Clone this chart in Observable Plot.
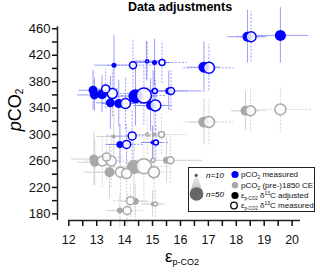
<!DOCTYPE html>
<html><head><meta charset="utf-8">
<script src="https://cdn.jsdelivr.net/npm/d3@7"></script>
<script src="https://cdn.jsdelivr.net/npm/@observablehq/plot@0.6"></script>
<style>
body{margin:0;background:#fff;overflow:hidden;font-family:"Liberation Sans",Arial,sans-serif;}
#wrap{position:relative;width:320px;height:272px;}
.abs{position:absolute;white-space:nowrap;}
</style></head>
<body><div id="wrap"></div>
<script>
// ---- data: blue = pCO2 measured, gray = pCO2 (pre-)1850 CE
// filled = eps δ13C adjusted, open = eps δ13C measured
const blueAdjEps  = [18.40,19.58,16.84,13.62,14.78,15.07,12.87,12.92,13.19,13.49,13.79,14.39,14.93,15.02,15.58,13.83,15.00];
const blueAdjPco2 = [448,450,402,405,411,409,367,360,361,348,347,358,344,366,366,285,288];
const blueAdjN    = [38,42,42,18,10,18,34,34,38,34,34,54,34,14,26,26,14];
const blueAdjEx   = [0.7,1.0,0.6,0.7,0.5,0.6,0.5,0.6,0.4,0.5,0.6,0.8,0.6,0.4,1.2,0.5,0.4];
const blueAdjEy   = [40,42,38,45,30,35,30,25,28,40,35,45,40,30,30,30,25];

const blueMeasEps  = [18.53,17.02,14.30,14.81,15.34,13.32,13.56,14.03,14.69,15.10,15.08,15.66,14.07,15.12,14.27];
const blueMeasPco2 = [448,401,405,411,409,369,362,347,359,344,366,366,285,288,298];
const blueMeasN    = [38,42,26,10,22,30,38,38,58,42,18,26,30,18,30];
const blueMeasEx   = [0.5,0.9,0.9,0.4,0.9,0.5,0.6,0.6,0.8,0.6,0.5,0.6,0.6,0.5,0.9];
const blueMeasEy   = [38,35,40,28,32,30,35,40,45,38,30,30,30,25,40];

const grayAdjEps  = [18.33,16.84,13.61,15.05,12.90,12.93,13.46,14.33,15.50,13.83,14.38,15.00];
const grayAdjPco2 = [336,319,297,300,263,258,243,251,261,185,199,195];
const grayAdjN    = [38,42,14,14,34,34,38,54,26,22,26,14];
const grayAdjEx   = [0.5,0.5,0.6,0.6,0.8,0.6,0.9,0.8,1.3,0.5,0.5,0.4];
const grayAdjEy   = [30,35,40,35,40,35,40,45,35,25,25,20];

const grayMeasEps  = [18.51,19.58,17.02,14.81,15.32,13.20,13.35,13.52,13.85,14.07,14.69,15.05,15.02,15.64,14.09,14.21,15.10];
const grayMeasPco2 = [336,338,319,300,300,260,266,260,243,241,252,243,261,261,185,200,195];
const grayMeasN    = [38,42,42,10,22,38,30,38,38,38,58,42,14,26,30,30,14];
const grayMeasEx   = [0.6,1.1,0.9,0.5,0.9,0.6,0.6,0.7,0.8,0.7,0.9,0.7,0.5,0.5,0.6,0.6,0.4];
const grayMeasEy   = [33,35,35,30,30,40,35,40,45,40,50,40,30,35,25,25,20];

const xTicks = d3.range(12, 20.01, 0.5);
const yTicks = d3.range(180, 461, 20);
const xDomain = [12, 20.3];
const yDomain = [170, 463];

function rows(eps, p, n, ex, ey){ return eps.map((e,i)=>({eps:e,pco2:p[i],n:n[i],ex:ex[i],ey:ey[i]})); }
const blueAdj = rows(blueAdjEps,blueAdjPco2,blueAdjN,blueAdjEx,blueAdjEy);
const blueMeas = rows(blueMeasEps,blueMeasPco2,blueMeasN,blueMeasEx,blueMeasEy);
const grayAdj = rows(grayAdjEps,grayAdjPco2,grayAdjN,grayAdjEx,grayAdjEy);
const grayMeas = rows(grayMeasEps,grayMeasPco2,grayMeasN,grayMeasEx,grayMeasEy);

const BLUE="#0000ff", BLUEBAR="#7373ff", GRAY="#a8a8a8", GRAYBAR="#cfcfcf";
function bars(data, color, dash, op){
  return [
    Plot.ruleY(data,{y:"pco2",x1:d=>d.eps-d.ex,x2:d=>d.eps+d.ex,stroke:color,strokeOpacity:op,strokeWidth:1,strokeDasharray:dash}),
    Plot.ruleX(data,{x:"eps",y1:d=>d.pco2-d.ey,y2:d=>d.pco2+d.ey,stroke:color,strokeOpacity:op,strokeWidth:1,strokeDasharray:dash})
  ];
}
const axisX0 = xDomain[0] - 11.3/27.9;
const chart = Plot.plot({
  width:320, height:272,
  marginLeft:57, marginRight:20, marginTop:26.3, marginBottom:52,
  x:{domain:xDomain, insetLeft:11.3},
  y:{domain:yDomain},
  r:{type:"linear", domain:[10,50], range:[1.5,6.5], clamp:false},
  style:{fontFamily:'"Liberation Sans",Arial,sans-serif', fontSize:"12px", color:"#111", background:"#fff"},
  marks:[
    ...bars(grayMeas, GRAYBAR, "2,1.5", 0.9),
    ...bars(grayAdj, GRAYBAR, null, 0.9),
    ...bars(blueMeas, BLUEBAR, "2,1.5", 0.7),
    ...bars(blueAdj, BLUEBAR, null, 0.7),
    Plot.dot(grayAdj,{x:"eps",y:"pco2",r:"n",fill:GRAY,stroke:"none"}),
    Plot.dot(grayMeas,{x:"eps",y:"pco2",r:"n",fill:"white",fillOpacity:0.85,stroke:GRAY,strokeWidth:1.5}),
    Plot.dot(blueAdj,{x:"eps",y:"pco2",r:"n",fill:BLUE,stroke:"none"}),
    Plot.dot(blueMeas,{x:"eps",y:"pco2",r:"n",fill:"white",fillOpacity:0.85,stroke:BLUE,strokeWidth:1.5}),
    Plot.ruleY([yDomain[0]],{x1:xDomain[0],x2:xDomain[1],stroke:"#222",strokeWidth:1.5}),
    Plot.ruleX([axisX0],{y1:yDomain[0],y2:yDomain[1],stroke:"#222",strokeWidth:1.5}),
    Plot.axisX({ticks:xTicks, tickSize:6, tickPadding:9, tickFormat:d=>Number.isInteger(d)?d:"", label:null, strokeWidth:1.5, fontSize:12.5}),
    Plot.axisY({ticks:yTicks, tickSize:5, tickPadding:2, tickFormat:d=>(d-180)%40===0?d:"", label:null, strokeWidth:1.5, fontSize:13})
  ]
});
const wrap = document.getElementById("wrap");
wrap.appendChild(chart);

wrap.insertAdjacentHTML("beforeend", `
<div class="abs" style="left:0;width:360px;top:0px;text-align:center;font-weight:bold;font-size:12.5px;">Data adjustments</div>
<div class="abs" style="left:15px;top:110px;transform:translate(-50%,-50%) rotate(-90deg);font-size:18px;"><i>p</i>CO<sub style="font-size:10px;vertical-align:-2px;">2</sub></div>
<div class="abs" style="left:165px;top:247px;font-size:17px;">ε<sub style="font-size:9px;vertical-align:-3px;">p-CO2</sub></div>
<div class="abs" style="left:188px;top:167px;width:125px;height:43px;border:1.5px solid #222;background:#fff;"></div>
<svg class="abs" style="left:188px;top:167px;" width="130" height="48">
  <defs><linearGradient id="g" x1="0" y1="0" x2="0" y2="1"><stop offset="0" stop-color="#eee"/><stop offset="1" stop-color="#bbb"/></linearGradient></defs>
  <path d="M7.2,8.3 L1.5,27 L15.5,27 L9.2,8.3 Z" fill="url(#g)"/>
  <circle cx="8.2" cy="8.3" r="1.6" fill="#555"/>
  <circle cx="8.5" cy="27" r="6.8" fill="#666"/>
  <text x="18" y="11" font-size="8" font-style="italic" font-family="Liberation Sans, Arial">n=10</text>
  <text x="18" y="30" font-size="8" font-style="italic" font-family="Liberation Sans, Arial">n=50</text>
  <circle cx="47" cy="7.5" r="3.6" fill="#0000ff"/>
  <circle cx="47" cy="18.3" r="3.2" fill="#a8a8a8"/>
  <circle cx="47" cy="28.5" r="3.6" fill="#000"/>
  <circle cx="46" cy="38.5" r="3.3" fill="#fff" stroke="#000" stroke-width="1.3"/>
  <g font-size="8" font-family="Liberation Sans, Arial" fill="#111">
    <text x="53" y="10.3">pCO<tspan font-size="5" dy="2">2</tspan><tspan dy="-2"> measured</tspan></text>
    <text x="53" y="21">pCO<tspan font-size="5" dy="2">2</tspan><tspan dy="-2"> (pre-)1850 CE</tspan></text>
    <text x="53" y="31.3">ε<tspan font-size="4.5" dy="1.5">p-CO2</tspan><tspan dy="-1.5"> δ</tspan><tspan font-size="5" dy="-3">13</tspan><tspan dy="3">C adjusted</tspan></text>
    <text x="53" y="41.3">ε<tspan font-size="4.5" dy="1.5">p-CO2</tspan><tspan dy="-1.5"> δ</tspan><tspan font-size="5" dy="-3">13</tspan><tspan dy="3">C measured</tspan></text>
  </g>
</svg>
`);
</script>
</body></html>
